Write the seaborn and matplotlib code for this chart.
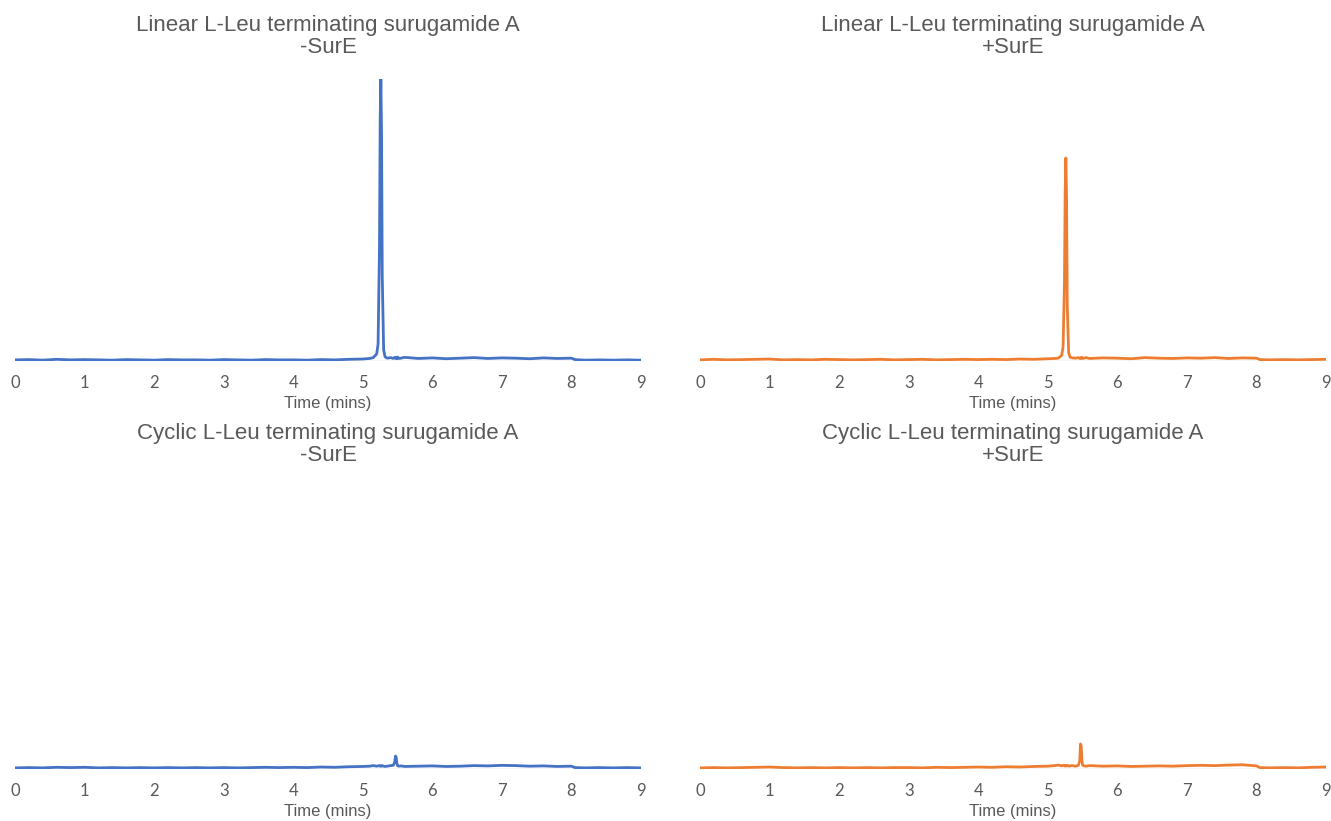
import matplotlib
matplotlib.use("Agg")
import matplotlib.pyplot as plt
import seaborn as sns
import pandas as pd

# Retention time grid (minutes), dense around the eluting peaks
time_min = [0.0, 0.2, 0.4, 0.6, 0.8, 1.0, 1.2, 1.4, 1.6, 1.8, 2.0, 2.2, 2.4, 2.6, 2.8,
            3.0, 3.2, 3.4, 3.6, 3.8, 4.0, 4.2, 4.4, 4.6, 4.8, 5.0,
            5.1, 5.15, 5.2, 5.22, 5.24, 5.25, 5.26, 5.27, 5.28, 5.30, 5.32, 5.35, 5.4,
            5.44, 5.46, 5.47, 5.48, 5.49, 5.5, 5.52, 5.55, 5.6,
            5.8, 6.0, 6.2, 6.4, 6.6, 6.8, 7.0, 7.2, 7.4, 7.6, 7.8, 8.0,
            8.05, 8.2, 8.4, 8.6, 8.8, 9.0]

# Relative EIC intensities
linear_minus = [0.4, 0.5, 0.3, 0.6, 0.4, 0.5, 0.4, 0.3, 0.5, 0.4, 0.3, 0.5, 0.4, 0.4, 0.3,
                0.5, 0.4, 0.3, 0.5, 0.4, 0.4, 0.3, 0.5, 0.4, 0.6, 0.7,
                0.9, 1.2, 2.5, 6.0, 40.0, 85.0, 100.0, 80.0, 30.0, 4.0, 1.5, 1.0, 1.2,
                0.9, 1.3, 1.0, 1.1, 0.8, 1.4, 0.9, 1.0, 1.3,
                0.9, 1.1, 0.8, 1.0, 1.2, 0.9, 1.1, 1.0, 0.8, 1.1, 0.9, 1.0,
                0.5, 0.3, 0.4, 0.3, 0.4, 0.3]

linear_plus = [0.4, 0.6, 0.4, 0.5, 0.6, 0.7, 0.4, 0.5, 0.4, 0.6, 0.5, 0.4, 0.5, 0.6, 0.4,
               0.5, 0.6, 0.4, 0.5, 0.6, 0.5, 0.6, 0.5, 0.7, 0.6, 0.8,
               0.9, 1.0, 2.0, 5.0, 28.0, 60.0, 72.0, 58.0, 20.0, 3.0, 1.4, 1.1, 1.0,
               1.2, 0.9, 1.1, 1.0, 1.3, 0.9, 1.0, 1.2, 0.9,
               1.1, 1.0, 0.8, 1.2, 1.0, 0.9, 1.1, 1.0, 1.2, 0.9, 1.1, 1.0,
               0.5, 0.4, 0.5, 0.4, 0.5, 0.6]

cyclic_minus = [0.4, 0.5, 0.4, 0.6, 0.5, 0.6, 0.4, 0.5, 0.4, 0.5, 0.4, 0.5, 0.4, 0.5, 0.4,
                0.5, 0.4, 0.5, 0.6, 0.5, 0.6, 0.5, 0.7, 0.6, 0.8, 0.9,
                1.0, 1.2, 1.0, 1.1, 1.2, 1.0, 1.1, 1.0, 1.2, 1.0, 0.9, 1.0, 1.2,
                1.3, 2.5, 4.6, 4.2, 2.0, 1.2, 1.0, 1.1, 0.9,
                1.0, 1.1, 0.9, 1.0, 1.2, 1.1, 1.3, 1.2, 1.0, 1.1, 0.9, 1.0,
                0.5, 0.4, 0.5, 0.4, 0.5, 0.4]

cyclic_plus = [0.4, 0.5, 0.4, 0.5, 0.6, 0.7, 0.5, 0.4, 0.5, 0.4, 0.5, 0.4, 0.5, 0.4, 0.5,
               0.5, 0.4, 0.6, 0.5, 0.6, 0.7, 0.6, 0.8, 0.7, 0.9, 1.0,
               1.2, 1.4, 1.1, 1.3, 1.2, 1.0, 1.2, 1.1, 1.3, 1.0, 1.1, 1.2, 1.0,
               1.3, 3.0, 8.9, 8.3, 3.5, 1.4, 1.1, 1.0, 1.2,
               1.0, 1.1, 0.9, 1.0, 1.1, 1.0, 1.2, 1.3, 1.2, 1.4, 1.5, 1.1,
               0.5, 0.4, 0.5, 0.4, 0.6, 0.7]

panel_titles = ["Linear L-Leu terminating surugamide A\n-SurE",
                "Linear L-Leu terminating surugamide A\n+SurE",
                "Cyclic L-Leu terminating surugamide A\n-SurE",
                "Cyclic L-Leu terminating surugamide A\n+SurE"]
x_ticks = [0, 1, 2, 3, 4, 5, 6, 7, 8, 9]
x_label = "Time (mins)"

BLUE = "#4472C4"
ORANGE = "#ED7D31"
GRAY = "#595959"

sns.set_theme(style="white")
plt.rcParams["font.family"] = ["Liberation Sans", "DejaVu Sans"]

fig = plt.figure(figsize=(13.31, 8.21), dpi=100)
W, H = 1331, 821

def make_axes(x0_px, base_px):
    width_px = 626
    height_px = 282
    return fig.add_axes([x0_px / W, 1 - base_px / H, width_px / W, height_px / H])

panels = [
    (make_axes(15, 361), linear_minus, BLUE),
    (make_axes(700, 361), linear_plus, ORANGE),
    (make_axes(15, 769), cyclic_minus, BLUE),
    (make_axes(700, 769), cyclic_plus, ORANGE),
]

for (ax, values, color), title in zip(panels, panel_titles):
    df = pd.DataFrame({"time": time_min, "signal": values})
    ax.axhline(0, color="#D9D9D9", lw=1.0, zorder=1)
    sns.lineplot(data=df, x="time", y="signal", ax=ax, color=color, lw=2.0, zorder=2)
    ax.set_xlim(0, 9)
    ax.set_ylim(0, 100)
    ax.set_xticks(x_ticks)
    ax.set_xticklabels([str(t) for t in x_ticks], family=["Lato", "DejaVu Sans"],
                       fontsize=12, color=GRAY)
    ax.tick_params(axis="x", length=0, pad=10)
    ax.set_yticks([])
    ax.set_ylabel("")
    ax.set_xlabel(x_label, fontsize=12, color=GRAY, labelpad=4)
    for s in ax.spines.values():
        s.set_visible(False)
    ax.set_title(title, fontsize=16, color=GRAY, pad=19, linespacing=1.05)
    ax.patch.set_alpha(0)

fig.savefig("out.png", dpi=100)
